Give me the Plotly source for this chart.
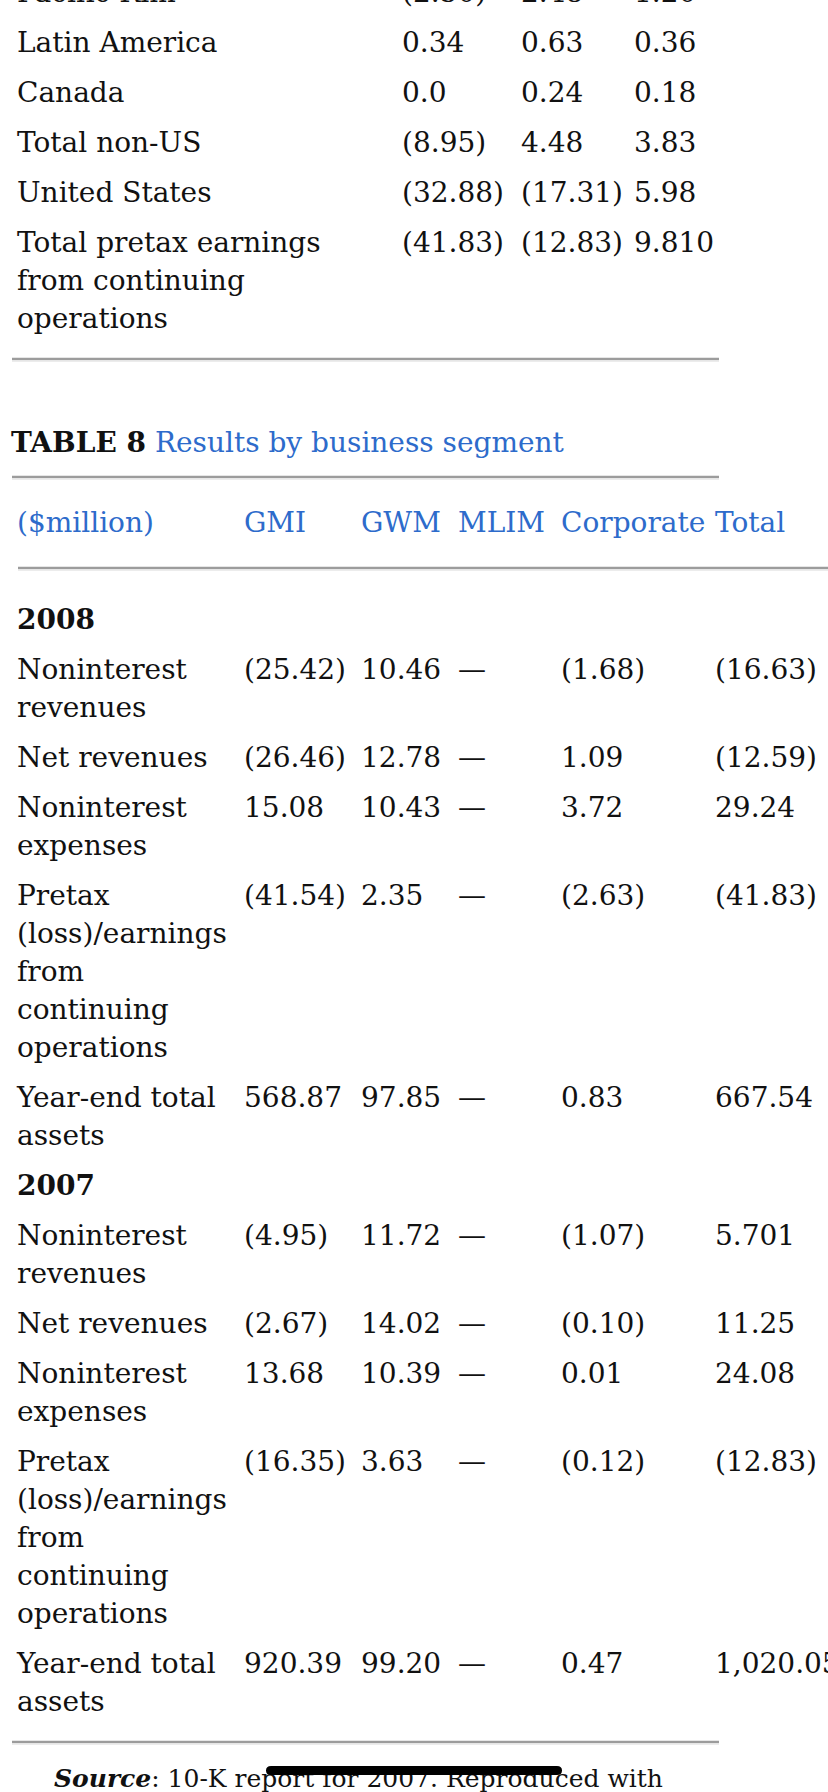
import plotly.graph_objects as go

# ---- data: end of the previous table (pretax earnings by region) ----
region_labels = ["Pacific Rim", "Latin America", "Canada", "Total non-US", "United States",
                 "Total pretax earnings\nfrom continuing\noperations"]
region_2008 = ["(2.50)", "0.34", "0.0", "(8.95)", "(32.88)", "(41.83)"]
region_2007 = ["2.48", "0.63", "0.24", "4.48", "(17.31)", "(12.83)"]
region_2006 = ["1.20", "0.36", "0.18", "3.83", "5.98", "9.810"]

# ---- data: TABLE 8 Results by business segment ----
table_no = "TABLE 8"
table_title = "Results by business segment"
header_cols = ["($million)", "GMI", "GWM", "MLIM", "Corporate", "Total"]
metric_labels = ["Noninterest\nrevenues", "Net revenues", "Noninterest\nexpenses",
                 "Pretax\n(loss)/earnings\nfrom\ncontinuing\noperations", "Year-end total\nassets"]
years = ["2008", "2007"]

gmi_2008 = ["(25.42)", "(26.46)", "15.08", "(41.54)", "568.87"]
gwm_2008 = ["10.46", "12.78", "10.43", "2.35", "97.85"]
mlim_2008 = ["—", "—", "—", "—", "—"]
corp_2008 = ["(1.68)", "1.09", "3.72", "(2.63)", "0.83"]
total_2008 = ["(16.63)", "(12.59)", "29.24", "(41.83)", "667.54"]

gmi_2007 = ["(4.95)", "(2.67)", "13.68", "(16.35)", "920.39"]
gwm_2007 = ["11.72", "14.02", "10.39", "3.63", "99.20"]
mlim_2007 = ["—", "—", "—", "—", "—"]
corp_2007 = ["(1.07)", "(0.10)", "0.01", "(0.12)", "0.47"]
total_2007 = ["5.701", "11.25", "24.08", "(12.83)", "1,020.05"]

source_text = "<b><i>Source</i></b>: 10-K report for 2007. Reproduced with"

# ---- page layout (pixels) ----
W, H = 828, 1792
FONT = "DejaVu Serif"
FS = 28
BLACK = "#111111"
BLUE = "#2d6bcb"
LINE_PITCH = 38
ROW_GAP = 50
LEFT = 17
DY = 3.5  # baseline nudge of text against the rules

plain = {"x": [], "y": [], "t": []}
blue = {"x": [], "y": [], "t": []}
bold = {"x": [], "y": [], "t": []}
small = {"x": [], "y": [], "t": []}


def put(store, x, y, text):
    store["x"].append(x)
    store["y"].append(y + DY)
    store["t"].append(text)


def put_label(store, x, y, label):
    for k, line in enumerate(label.split("\n")):
        put(store, x, y + k * LINE_PITCH, line)
    return label.count("\n")


# previous table rows
region_x = [402, 521, 634]
y = -9
for label, a, b, c in zip(region_labels, region_2008, region_2007, region_2006):
    extra = put_label(plain, LEFT, y, label)
    for xx, v in zip(region_x, [a, b, c]):
        put(plain, xx, y, v)
    y += ROW_GAP + extra * LINE_PITCH

# table 8 title and header
put(plain, 11, 441, "<b>%s</b> <span style='color:%s'>%s</span>" % (table_no, BLUE, table_title))
header_x = [LEFT, 244, 361, 458, 561, 715]
for xx, h in zip(header_x, header_cols):
    put(blue, xx, 521, h)

# table 8 body
y = 618
blocks = [(years[0], [gmi_2008, gwm_2008, mlim_2008, corp_2008, total_2008]),
          (years[1], [gmi_2007, gwm_2007, mlim_2007, corp_2007, total_2007])]
for yr, cols in blocks:
    put(bold, LEFT, y, yr)
    y += ROW_GAP
    for i, label in enumerate(metric_labels):
        extra = put_label(plain, LEFT, y, label)
        for xx, col in zip(header_x[1:], cols):
            put(plain, xx, y, col[i])
        y += ROW_GAP + extra * LINE_PITCH

put(small, 54, 1777, source_text)

fig = go.Figure()
for store, color, wrap, size in [(plain, BLACK, "%s", FS), (blue, BLUE, "%s", FS),
                                 (bold, BLACK, "<b>%s</b>", FS), (small, BLACK, "%s", 25)]:
    fig.add_trace(go.Scatter(
        x=store["x"], y=store["y"], text=[wrap % t for t in store["t"]],
        mode="text", textposition="middle right",
        textfont=dict(family=FONT, size=size, color=color),
        cliponaxis=True, hoverinfo="skip", showlegend=False))

# rules between sections
shapes = []
for x0, x1, yy in [(12, 719, 359), (12, 719, 477), (18, W, 568), (12, 719, 1742)]:
    shapes.append(dict(type="line", x0=x0, x1=x1, y0=yy, y1=yy,
                       line=dict(color="#9c9c9c", width=2.5)))
    shapes.append(dict(type="line", x0=x0, x1=x1, y0=yy + 2, y1=yy + 2,
                       line=dict(color="#e6e6e6", width=1.5)))

# phone home indicator over the source line
shapes.append(dict(type="path", layer="above", fillcolor="black", line=dict(width=0),
                   path="M 271 1766 L 557 1766 Q 562 1766 562 1770.5 Q 562 1775 557 1775 "
                        "L 271 1775 Q 266 1775 266 1770.5 Q 266 1766 271 1766 Z"))

fig.update_layout(
    width=W, height=H,
    margin=dict(l=0, r=0, t=0, b=0),
    paper_bgcolor="white", plot_bgcolor="white",
    xaxis=dict(range=[0, W], visible=False, fixedrange=True),
    yaxis=dict(range=[H, 0], visible=False, fixedrange=True),
    shapes=shapes,
)

# drop the default page margin so the figure sits at the window corner
fig.write_html("out.html", config={"displayModeBar": False},
               post_script="document.body.style.margin='0';")
